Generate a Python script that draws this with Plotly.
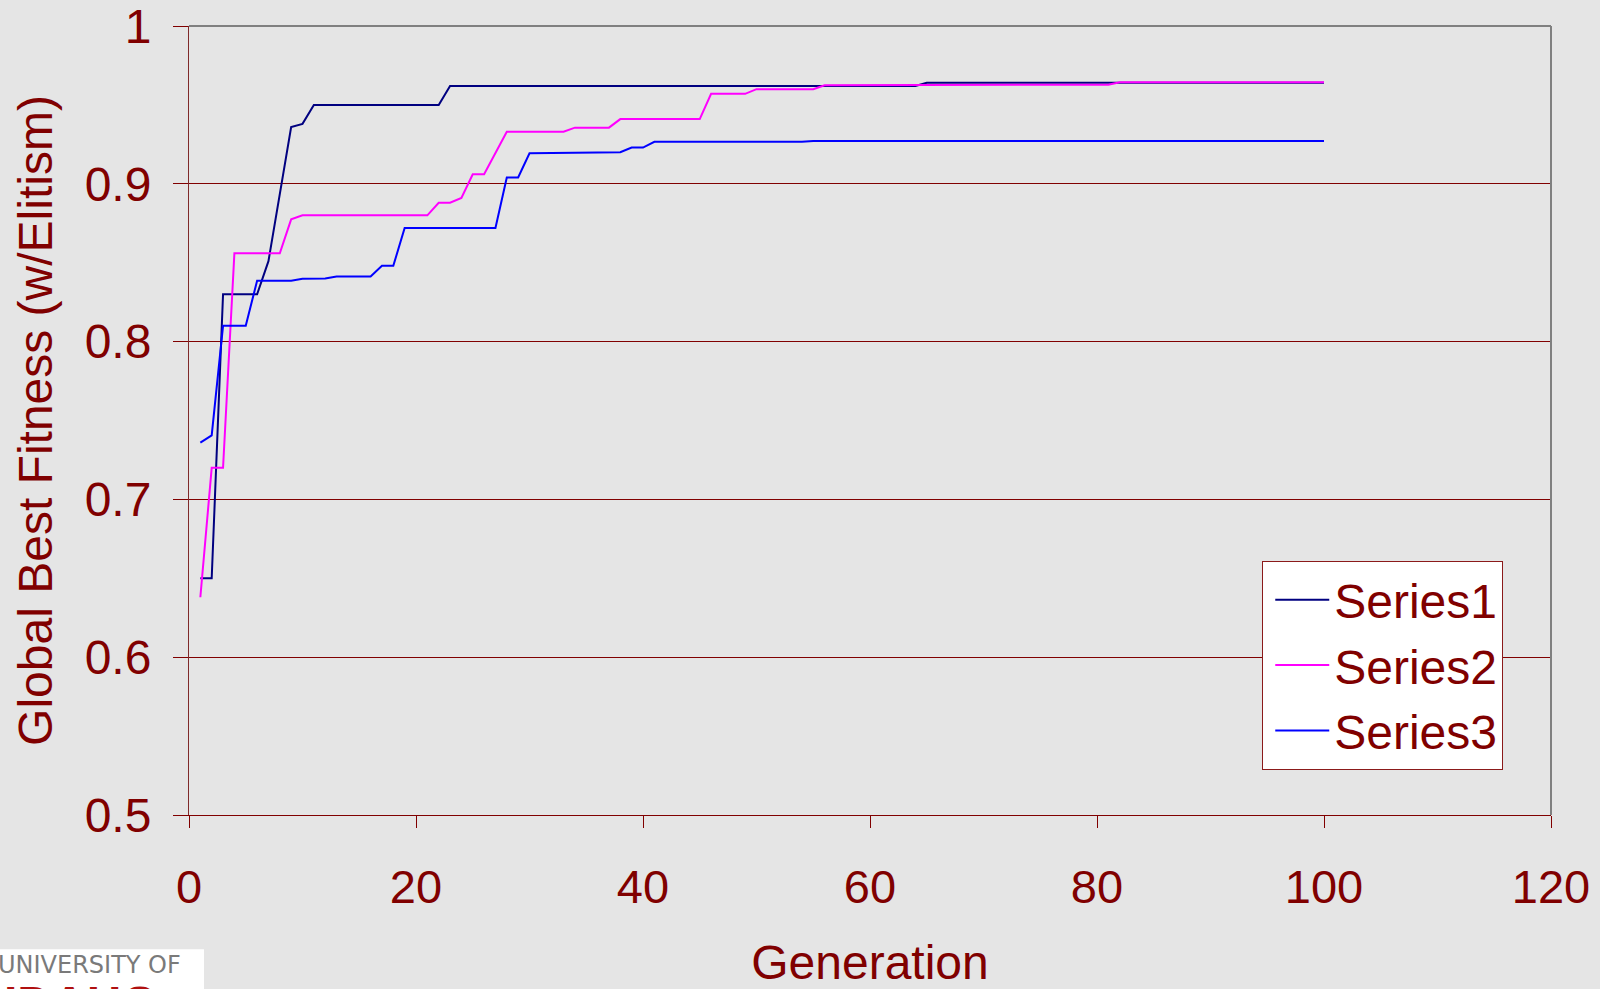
import plotly.graph_objects as go

# Breakpoints of each step-like series (generation, global best fitness)
s1_gen = [1, 2, 3, 6, 7, 9, 10, 11, 22, 23, 64, 65, 100]
s1_fit = [0.650, 0.650, 0.830, 0.830, 0.851, 0.936, 0.938, 0.950, 0.950, 0.962, 0.962, 0.964, 0.964]

s2_gen = [1, 2, 3, 4, 8, 9, 10, 21, 22, 23, 24, 25, 26, 28, 33, 34, 37, 38, 45, 46, 49, 50, 55, 56, 81, 82, 100]
s2_fit = [0.638, 0.720, 0.720, 0.856, 0.856, 0.8775, 0.880, 0.880, 0.888, 0.888, 0.891, 0.906, 0.906,
          0.933, 0.933, 0.9356, 0.9356, 0.941, 0.941, 0.957, 0.957, 0.960, 0.960, 0.9625, 0.9628, 0.9643, 0.9643]

s3_gen = [1, 2, 3, 5, 6, 9, 10, 12, 13, 16, 17, 18, 19, 27, 28, 29, 30, 35, 38, 39, 40, 41, 54, 55, 100]
s3_fit = [0.736, 0.7406, 0.810, 0.810, 0.8386, 0.8386, 0.8398, 0.840, 0.8413, 0.8413, 0.848, 0.848, 0.872,
          0.872, 0.904, 0.904, 0.9193, 0.9199, 0.920, 0.923, 0.923, 0.9266, 0.9266, 0.9272, 0.9272]

series_names = ["Series1", "Series2", "Series3"]
series_colors = ["#000080", "#FF00FF", "#0000FF"]

x_ticks = [0, 20, 40, 60, 80, 100, 120]
y_ticks = [0.5, 0.6, 0.7, 0.8, 0.9, 1.0]
y_tick_text = ["0.5", "0.6", "0.7", "0.8", "0.9", "1"]

DARK_RED = "#800000"
FONT = "Liberation Sans, Arial, sans-serif"

fig = go.Figure()
for name, xs, ys, col in zip(series_names, [s1_gen, s2_gen, s3_gen], [s1_fit, s2_fit, s3_fit], series_colors):
    fig.add_trace(go.Scatter(x=xs, y=ys, mode="lines", name=name, legendgroup=name,
                             line=dict(color=col, width=2)))

fig.update_layout(
    width=1600, height=989,
    margin=dict(l=189, r=49, t=26, b=174),
    paper_bgcolor="#e5e5e5",
    plot_bgcolor="#e5e5e5",
    font=dict(family=FONT, color=DARK_RED, size=46),
    showlegend=True,
    legend=dict(
        x=0.788, y=0.322, xanchor="left", yanchor="top",
        bgcolor="white", bordercolor="#8B1A1A", borderwidth=1,
        font=dict(family=FONT, size=48, color=DARK_RED),
        traceorder="grouped", tracegroupgap=0,
        itemwidth=54, indentation=7,
    ),
    xaxis=dict(
        range=[0, 120], tickvals=x_ticks, ticks="outside", ticklen=12,
        tickcolor=DARK_RED, showgrid=False, zeroline=False,
        showline=True, linecolor=DARK_RED, linewidth=1,
        tickfont=dict(size=47, color=DARK_RED),
        ticklabelstandoff=19, automargin=False, ticklabeloverflow="allow",
        title=dict(text="Generation", font=dict(size=48, color=DARK_RED), standoff=36),
    ),
    yaxis=dict(
        range=[0.5, 1.00001], tickvals=y_ticks, ticktext=y_tick_text, ticks="outside", ticklen=15,
        tickcolor=DARK_RED, showgrid=True, gridcolor=DARK_RED, gridwidth=1, zeroline=False,
        showline=True, linecolor="#7f2a2a", linewidth=1,
        tickfont=dict(size=48, color=DARK_RED),
        ticklabelstandoff=12, automargin=False, ticklabeloverflow="allow",
        title=dict(text="Global Best Fitness (w/Elitism)", font=dict(size=48, color=DARK_RED), standoff=16),
    ),
    shapes=[
        dict(type="line", xref="paper", yref="paper", x0=0, x1=1, y0=1, y1=1,
             line=dict(color="#808080", width=2), layer="above"),
        dict(type="line", xref="paper", yref="paper", x0=1, x1=1, y0=0, y1=1,
             line=dict(color="#808080", width=2), layer="above"),
        dict(type="rect", xref="paper", yref="paper", x0=-0.139, x1=0.011, y0=-0.170, y1=-0.3,
             fillcolor="white", line=dict(width=0), layer="above"),
    ],
    annotations=[
        dict(text="UNIVERSITY OF", xref="paper", yref="paper", x=-0.142, y=-0.170,
             xanchor="left", yanchor="top", showarrow=False,
             font=dict(family="DejaVu Sans, sans-serif", size=24, color="#7a7a7a")),
        dict(text="<b>IDAHO</b>", xref="paper", yref="paper", x=-0.137, y=-0.203,
             xanchor="left", yanchor="top", showarrow=False,
             font=dict(family=FONT, size=48, color="#b01010")),
    ],
)

fig.write_html("out.html")
